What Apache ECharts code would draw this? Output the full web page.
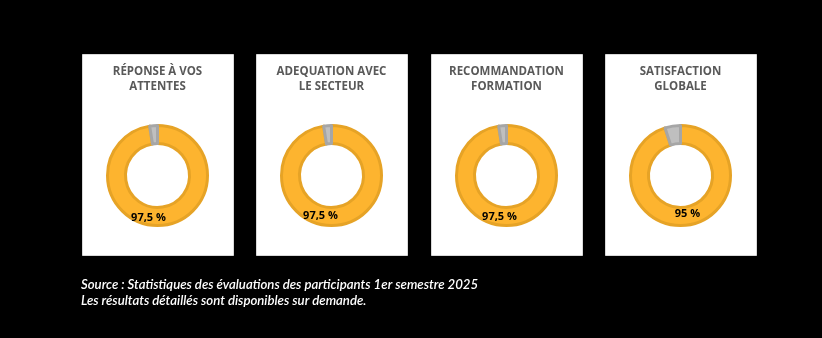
<!DOCTYPE html>
<html>
<head>
<meta charset="utf-8">
<script src="https://cdn.jsdelivr.net/npm/echarts@6/dist/echarts.min.js"></script>
<style>
  html, body { margin: 0; padding: 0; background: #000; }
  #chart { width: 822px; height: 338px; }
</style>
</head>
<body>
<div id="chart"></div>
<script>
// Survey indicators, one donut each
const titles = [
  ['RÉPONSE À VOS', 'ATTENTES'],
  ['ADEQUATION AVEC', 'LE SECTEUR'],
  ['RECOMMANDATION', 'FORMATION'],
  ['SATISFACTION', 'GLOBALE']
];
const satisfied = [97.5, 97.5, 97.5, 95];
const notSatisfied = [2.5, 2.5, 2.5, 5];
const valueLabels = ['97,5 %', '97,5 %', '97,5 %', '95 %'];
const sourceLines = [
  'Source : Statistiques des évaluations des participants 1er semestre 2025',
  'Les résultats détaillés sont disponibles sur demande.'
];

// Card layout
const cardLeft = [82, 256, 431, 605];
const cardTop = 54, cardW = 151, cardH = 201;
const donutCY = 175.5;
// where each value label sits, relative to the donut centre
const labelShift = [[-9, 42], [-11, 40], [-7, 41], [7, 38]];

const chart = echarts.init(document.getElementById('chart'), null, { renderer: 'canvas' });

const graphic = [];
const series = [];
titles.forEach((t, i) => {
  const cx = cardLeft[i] + cardW / 2;
  graphic.push({
    type: 'rect', z: 0,
    shape: { x: cardLeft[i] + 0.5, y: cardTop + 0.5, width: cardW, height: cardH },
    style: { fill: '#ffffff', stroke: '#d9d9d9', lineWidth: 1 }
  });
  t.forEach((line, k) => {
    graphic.push({
      type: 'text', z: 5,
      style: {
        x: cx, y: 72 + k * 15, text: line, align: 'center', verticalAlign: 'middle',
        font: 'bold 11.5px "Open Sans"', fill: '#595959'
      }
    });
  });
  graphic.push({
    type: 'text', z: 20,
    style: {
      x: cx + labelShift[i][0], y: donutCY + labelShift[i][1], text: valueLabels[i],
      align: 'center', verticalAlign: 'middle',
      font: 'bold 11px "Open Sans"', fill: '#000000'
    }
  });
  series.push({
    type: 'pie',
    center: [cx, donutCY],
    radius: [32, 50],
    startAngle: 90,
    clockwise: true,
    silent: true,
    animation: false,
    z: 10,
    label: { show: false },
    labelLine: { show: false },
    data: [
      { value: satisfied[i], itemStyle: { color: '#fdb42f', borderColor: '#e6a326', borderWidth: 3 } },
      { value: notSatisfied[i], itemStyle: { color: '#bfbfbf', borderColor: '#a6a6a6', borderWidth: 3 } }
    ]
  });
});

sourceLines.forEach((s, k) => {
  graphic.push({
    type: 'text', z: 5,
    style: {
      x: 81, y: 285 + k * 16, text: s, align: 'left', verticalAlign: 'middle',
      font: 'italic 600 13.2px Lato', fill: '#ffffff'
    }
  });
});

chart.setOption({
  backgroundColor: '#000000',
  animation: false,
  graphic: graphic,
  series: series
});
</script>
</body>
</html>
